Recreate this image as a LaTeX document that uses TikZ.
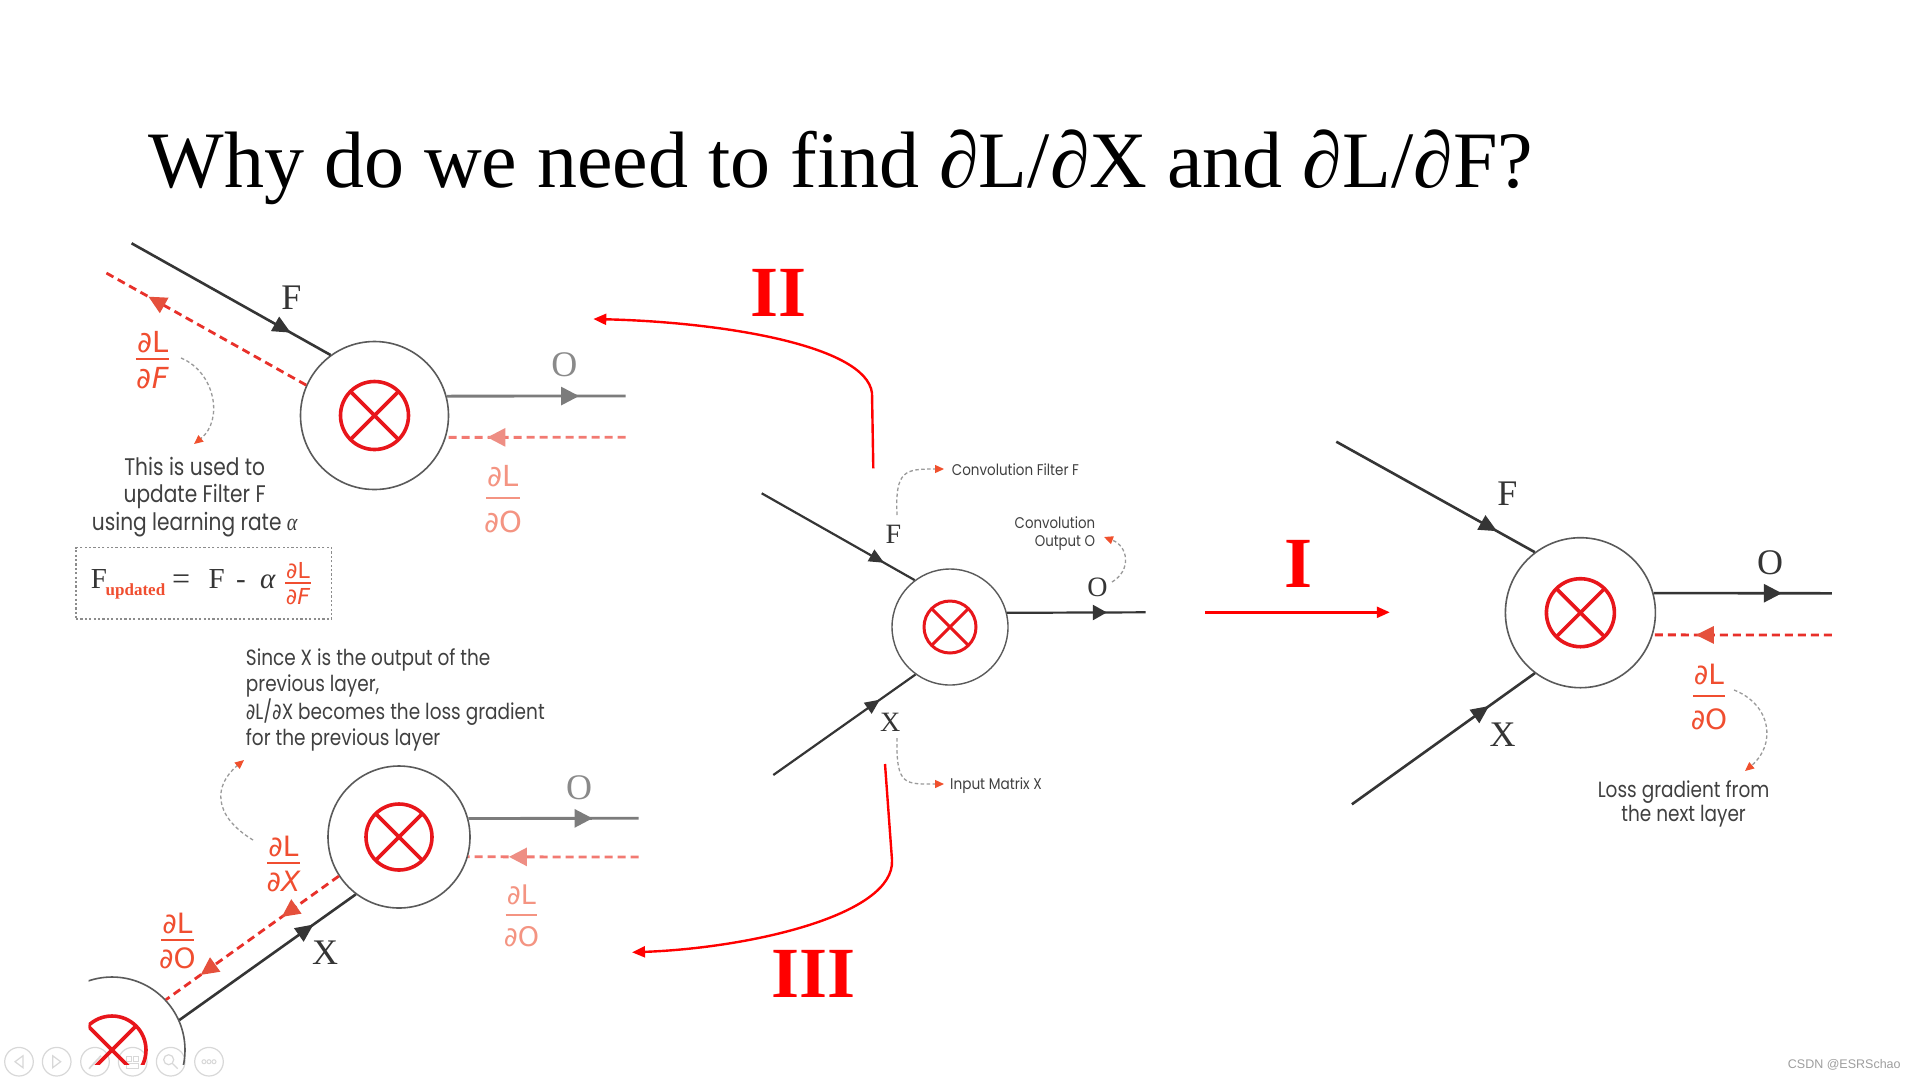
\documentclass[tikz,border=0pt]{standalone}
\usepackage{fontspec}
\setmainfont{Liberation Serif}
\newfontfamily\descfont{Poppins}
\newfontfamily\gradfont{DejaVu Sans}
\newfontfamily\wmfont{Liberation Sans}
\usetikzlibrary{arrows.meta,decorations.markings,calc}
\definecolor{ink}{HTML}{353535}
\definecolor{ringcol}{HTML}{5A5A5A}
\definecolor{fadeline}{HTML}{7C7C7C}
\definecolor{fadetxt}{HTML}{8A8A8A}
\definecolor{xred}{HTML}{E8161B}
\definecolor{gradred}{HTML}{E8302A}
\definecolor{gradtip}{HTML}{E5503C}
\definecolor{gradtxt}{HTML}{F04E30}
\definecolor{salmon}{HTML}{F27A72}
\definecolor{salmontip}{HTML}{EE8E84}
\definecolor{salmontxt}{HTML}{F49482}
\definecolor{hintgray}{HTML}{9A9A9A}
\definecolor{hinttip}{HTML}{F0502D}
\definecolor{txtgray}{HTML}{404040}
\definecolor{pure}{HTML}{FF0000}
\definecolor{wmgray}{HTML}{9E9E9E}
\definecolor{btn}{HTML}{D8D8D8}
\definecolor{boxgray}{HTML}{8C8C8C}

% red circled cross inside a ring node
\newcommand{\crossmark}[3]{%
  \draw[xred, line width=#3] (#1.center) circle[radius=#2];
  \draw[xred, line width=#3] ($(#1.center)+(45:#2)$) -- ($(#1.center)+(225:#2)$)
                             ($(#1.center)+(135:#2)$) -- ($(#1.center)+(315:#2)$);
}
% gradient fraction dL / d?  : name, x, bar y, denominator, colour, size, gap
\newcommand{\gfrac}[7]{%
  \coordinate (#1) at (#2,#3);
  \node[inner sep=0pt, anchor=base, text=#5, font={\gradfont\fontsize{#6}{#6}\selectfont}]
     (#1-num) at ($(#1)+(0,{-#7})$) {∂L};
  \draw[#5, line width=0.075*#6] ($(#1)+({-0.58*#6},0)$) -- ($(#1)+({0.58*#6},0)$);
  \node[inner sep=0pt, anchor=base, text=#5, font={\gradfont\fontsize{#6}{#6}\selectfont}]
     (#1-den) at ($(#1)+(0,{#7+0.76*#6})$) {#4};
}

\begin{document}
\begin{tikzpicture}[x=1pt,y=-1pt,
  ring/.style={circle, draw=ringcol, line width=1.6pt, inner sep=0pt, fill=white},
  wire/.style={draw=ink, line width=2.6pt},
  thinwire/.style={draw=ink, line width=2.2pt},
  fadewire/.style={draw=fadeline, line width=2.8pt},
  gradline/.style={draw=gradred, line width=2.8pt, dash pattern=on 8pt off 5pt},
  softgrad/.style={draw=salmon, line width=2.8pt, dash pattern=on 8pt off 5pt},
  hint/.style={draw=hintgray, line width=1.3pt, dash pattern=on 3.5pt off 2.5pt, -{Triangle[length=9pt,width=8pt,color=hinttip]}},
  redarrow/.style={draw=pure, line width=2.4pt, -{Triangle[length=13pt,width=11pt]}},
  tipat/.style 2 args={postaction={decorate,decoration={markings,mark=at position #1 with {\pgfsetdash{}{0pt}\arrow{#2}}}}},
  lab/.style={inner sep=0pt, text=ink, font=\fontsize{36}{36}\selectfont},
  smalllab/.style={inner sep=0pt, text=ink, font=\fontsize{28}{28}\selectfont},
  desc/.style={inner sep=0pt, text=txtgray},
  numeral/.style={inner sep=0pt, text=pure, font=\bfseries\fontsize{72}{72}\selectfont},
]
\useasboundingbox (0,0) rectangle (1918,1080);
\fill[white] (0,0) rectangle (1918,1080);

% ---------------- title
\node[anchor=base west, inner sep=0pt, font=\fontsize{80}{80}\selectfont] (title) at (148.3,187.7)
  {Why do we need to find ∂L/∂X and ∂L/∂F?};

% ---------------- player buttons
\foreach \bx [count=\i] in {19,56.7,95,132.7,170.7,209}
  \node[circle, draw=btn, line width=1.2pt, minimum size=28.6pt, inner sep=0pt] (btn\i) at (\bx,1061.7) {};
\draw[btn, line width=1.2pt] ($(btn1)+(4,-6)$) -- ($(btn1)+(-4,0)$) -- ($(btn1)+(4,6)$) -- cycle;
\draw[btn, line width=1.2pt] ($(btn2)+(-4,-6)$) -- ($(btn2)+(4,0)$) -- ($(btn2)+(-4,6)$) -- cycle;
\draw[btn, line width=1.6pt] ($(btn3)+(-6,7)$) -- ($(btn3)+(6,-6)$);
\draw[btn, line width=1.2pt] ($(btn4)+(-6,-5)$) rectangle ($(btn4)+(-1,0)$) ($(btn4)+(1,-5)$) rectangle ($(btn4)+(6,0)$) ($(btn4)+(-6,2)$) rectangle ($(btn4)+(6,7)$);
\draw[btn, line width=1.2pt] ($(btn5)+(-2,-2)$) circle[radius=5] ($(btn5)+(2,2)$) -- ($(btn5)+(7,7)$);
\foreach \dx in {-5,0,5} \draw[btn, line width=1pt] ($(btn6)+(\dx,0)$) circle[radius=2];

% ================= top-left panel
\node[ring, minimum size=148pt] (c1) at (374.5,415.5) {};
\crossmark{c1}{34}{3.6pt}
\coordinate (tlF0) at (131.6,243.3);
\draw[wire, tipat={0.80}{Triangle[length=18pt,width=16pt]}] (tlF0) -- (c1.126);
\node[lab] (tlFlab) at (291.5,298) {F};
\coordinate (tlG1) at (104,271.7);
\draw[gradline, tipat={0.78}{Triangle[length=18pt,width=17pt,color=gradtip]}] (c1.156) -- (tlG1);
\coordinate (tlO1) at (625.6,396);
\draw[fadewire, tipat={0.74}{Triangle[length=18pt,width=18pt]}] (c1.15) -- (tlO1);
\node[lab, text=fadetxt] (tlOlab) at (564.4,365) {O};
\coordinate (tlS1) at (625.6,437.3);
\draw[softgrad, tipat={0.77}{Triangle[length=18pt,width=18pt,color=salmontip]}] (tlS1) -- (c1.343);
\gfrac{tlfF}{152.6}{359}{∂{\itshape F}}{gradtxt}{29}{7}
\gfrac{tlfO}{503.2}{498}{∂O}{salmontxt}{29}{12}
\coordinate (tlh0) at (181,358);
\coordinate (tlh1) at (194,444);
\draw[hint] (tlh0) .. controls (215,372) and (224,420) .. (tlh1);
\node[desc, anchor=base, font={\descfont\fontsize{24}{27.7}\selectfont}] (tlnote) at (194.7,475)
  {\scalebox{0.84}[1]{\begin{tabular}[t]{@{}c@{}}This is used to\\update Filter F\\using learning rate {\rmfamily\itshape α}\end{tabular}}};
% formula box
\node[draw=boxgray, line width=1.2pt, dash pattern=on 2.2pt off 2.2pt, minimum width=255.7pt, minimum height=71.3pt, inner sep=0pt] (fbox) at (203.85,583.35) {};
\node[anchor=base west, inner sep=0pt, text=ink, font=\fontsize{29}{29}\selectfont] (fF) at (90.6,588.3) {F};
\node[anchor=base west, inner sep=0pt, text=gradtxt, font=\bfseries\fontsize{17}{17}\selectfont] (fsub) at (105.5,595) {updated};
\node[anchor=base west, inner sep=0pt, text=ink, font=\fontsize{32}{32}\selectfont] (feq) at (172,589) {=};
\node[anchor=base west, inner sep=0pt, text=ink, font=\fontsize{29}{29}\selectfont] (fF2) at (208.5,588.3) {F};
\node[anchor=base west, inner sep=0pt, text=ink, font=\fontsize{29}{29}\selectfont] (fminus) at (236,588.3) {-};
\node[anchor=base west, inner sep=0pt, text=ink, font=\itshape\fontsize{29}{29}\selectfont] (falpha) at (259.8,588.3) {α};
\gfrac{ffrac}{298}{583}{∂{\itshape F}}{gradtxt}{22}{5}

% ================= bottom-left panel
\node[ring, minimum size=142pt] (c2) at (399,837) {};
\crossmark{c2}{33}{3.6pt}
\begin{scope}
  \clip (88.5,0) rectangle (1918,1064);
  \node[ring, fill=none, minimum size=146pt] (c3) at (112,1050) {};
  \crossmark{c3}{34}{3.6pt}
\end{scope}
\coordinate (blO1) at (638.5,818.3);
\draw[fadewire, tipat={0.73}{Triangle[length=18pt,width=18pt]}] (c2.15) -- (blO1);
\node[lab, text=fadetxt] (blOlab) at (579,788) {O};
\coordinate (blS1) at (638.5,857);
\draw[softgrad, tipat={0.76}{Triangle[length=18pt,width=18pt,color=salmontip]}] (blS1) -- (c2.344);
\gfrac{blfO}{521.4}{915}{∂O}{salmontxt}{27}{11}
\draw[wire, tipat={0.76}{Triangle[length=18pt,width=16pt]}] (c3.24) -- (c2.233);
\node[lab] (blXlab) at (325,953) {X};
\draw[gradline, tipat={0.33}{Triangle[length=18pt,width=17pt,color=gradtip]},
      tipat={0.80}{Triangle[length=18pt,width=17pt,color=gradtip]}] (c2.213) -- (c3.43);
\gfrac{blfX}{283.4}{863}{∂{\itshape X}}{gradtxt}{28}{7}
\gfrac{blfO2}{177.4}{940}{∂O}{gradtxt}{28}{7}
\coordinate (blh0) at (253,840);
\coordinate (blh1) at (244,760);
\draw[hint] (blh0) .. controls (212,815) and (214,785) .. (blh1);
\node[desc, anchor=base west, font={\descfont\fontsize{22}{25.6}\selectfont}] (blnote) at (245.7,665.5)
  {\scalebox{0.84}[1]{\begin{tabular}[t]{@{}l@{}}Since X is the output of the\\previous layer,\\{\gradfont ∂}L/{\gradfont ∂}X becomes the loss gradient\\for the previous layer\end{tabular}}};

% ================= middle panel
\node[ring, line width=1.4pt, minimum size=116pt] (c4) at (950,627) {};
\crossmark{c4}{26}{3pt}
\coordinate (mF0) at (761.7,493.3);
\draw[thinwire, tipat={0.80}{Triangle[length=15pt,width=13pt]}] (mF0) -- (c4.127);
\node[smalllab] (mFlab) at (893.3,534) {F};
\coordinate (mX0) at (773.3,775);
\draw[thinwire, tipat={0.75}{Triangle[length=15pt,width=13pt]}] (mX0) -- (c4.234);
\node[smalllab] (mXlab) at (890.3,722.5) {X};
\coordinate (mO1) at (1145.7,612.3);
\draw[thinwire, tipat={0.72}{Triangle[length=14pt,width=15pt]}] (c4.14) -- (mO1);
\node[smalllab] (mOlab) at (1097.5,587) {O};
\node[desc, anchor=base west, font={\descfont\fontsize{15.5}{18.4}\selectfont}] (mconvF) at (951.7,475.7)
  {\scalebox{0.87}[1]{Convolution Filter F}};
\node[desc, anchor=base east, font={\descfont\fontsize{15.5}{18.4}\selectfont}] (mconvO) at (1095.3,528.3)
  {\scalebox{0.86}[1]{\begin{tabular}[t]{@{}r@{}}Convolution\\Output O\end{tabular}}};
\node[desc, anchor=base west, font={\descfont\fontsize{15.5}{18.4}\selectfont}] (minX) at (950,789.3)
  {\scalebox{0.88}[1]{Input Matrix X}};
\coordinate (mh1a) at (897,515);
\coordinate (mh1b) at (944,469);
\draw[hint] (mh1a) .. controls (895,470) and (905,469) .. (mh1b);
\coordinate (mh2a) at (1112,582);
\coordinate (mh2b) at (1104,537);
\draw[hint] (mh2a) .. controls (1132,570) and (1128,546) .. (mh2b);
\coordinate (mh3a) at (897,738);
\coordinate (mh3b) at (944,784);
\draw[hint] (mh3a) .. controls (896,786) and (905,784) .. (mh3b);

% ================= red step arrows
\coordinate (a2s) at (873.3,468.3);
\coordinate (a2m) at (872,393);
\coordinate (a2e) at (593.3,319);
\draw[redarrow] (a2s) -- (a2m) .. controls (866,345) and (720,322) .. (a2e);
\node[numeral] (numII) at (778.4,293.3) {II};
\coordinate (a3s) at (885,764);
\coordinate (a3m) at (892,860);
\coordinate (a3e) at (632,952.3);
\draw[redarrow] (a3s) -- (a3m) .. controls (895,915) and (750,948) .. (a3e);
\node[numeral] (numIII) at (813.8,974) {III};
\coordinate (a1s) at (1205.4,612.3);
\coordinate (a1e) at (1389.8,612.3);
\draw[redarrow] (a1s) -- (a1e);
\node[numeral] (numI) at (1298.3,563.8) {I};

% ================= right panel
\node[ring, minimum size=150pt] (c5) at (1580.4,612.7) {};
\crossmark{c5}{34}{3.6pt}
\coordinate (rF0) at (1336.3,441.7);
\draw[wire, tipat={0.81}{Triangle[length=18pt,width=16pt]}] (rF0) -- (c5.127);
\node[lab] (rFlab) at (1507.3,494) {F};
\coordinate (rX0) at (1351.9,804.3);
\draw[wire, tipat={0.75}{Triangle[length=18pt,width=16pt]}] (rX0) -- (c5.233);
\node[lab] (rXlab) at (1502.5,735) {X};
\coordinate (rO1) at (1831.8,593.3);
\draw[wire, tipat={0.72}{Triangle[length=18pt,width=18pt]}] (c5.15) -- (rO1);
\node[lab] (rOlab) at (1770.2,562.5) {O};
\coordinate (rS1) at (1831.8,635);
\draw[gradline, tipat={0.76}{Triangle[length=18pt,width=17pt,color=gradtip]}] (rS1) -- (c5.343);
\gfrac{rfO}{1709}{696}{∂O}{gradtxt}{28}{12}
\coordinate (rh0) at (1734,690);
\coordinate (rh1) at (1745,771);
\draw[hint] (rh0) .. controls (1772,705) and (1776,745) .. (rh1);
\node[desc, anchor=base, font={\descfont\fontsize{22}{24}\selectfont}] (rnote) at (1683.6,797.7)
  {\scalebox{0.84}[1]{\begin{tabular}[t]{@{}c@{}}Loss gradient from\\the next layer\end{tabular}}};

% ================= watermark
\node[anchor=base west, inner sep=0pt, text=wmgray, font={\wmfont\fontsize{12.5}{12.5}\selectfont}] (wm) at (1787.7,1068.3) {CSDN @ESRSchao};
\end{tikzpicture}
\end{document}
